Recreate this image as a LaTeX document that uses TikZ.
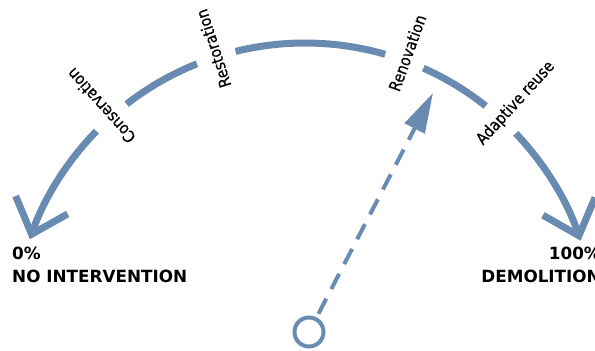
\documentclass[tikz,border=0pt]{standalone}
\usepackage{fontspec}
\setmainfont{DejaVu Sans}
\newfontfamily\stagefont[FakeStretch=0.87, FakeBold=0.6]{DejaVu Sans}
\usetikzlibrary{arrows.meta}
\definecolor{gaugeblue}{RGB}{105,139,177}

\begin{document}
\begin{tikzpicture}[x=1pt, y=1pt,
  arcline/.style={gaugeblue, line width=7pt},
  barb/.style={-{Straight Barb[sharp, length=31pt, width=55pt]}},
  stage/.style={anchor=west, inner sep=0pt, font=\stagefont\fontsize{16.3}{18}\selectfont},
  endlabel/.style={inner sep=0pt, font=\fontsize{16.8}{23}\selectfont\bfseries}]
  \useasboundingbox (-305,-17) rectangle (290,334);
  % the scale, broken where the stages are written
  \draw[arcline, barb] (135.8:291) arc[start angle=135.8, end angle=161, radius=291pt];
  \foreach \from/\to in {111.8/127.8, 74/103.8, 51.6/66}{
    \draw[arcline] (\from:291) arc[start angle=\from, end angle=\to, radius=291pt];
  }
  \draw[arcline, barb] (43.6:291) arc[start angle=43.6, end angle=18.7, radius=291pt];
  % stages along the scale
  \foreach \ang/\name/\key in {131.8/Conservation/cons, 107.8/Restoration/rest, 70/Renovation/reno, 47.6/Adaptive reuse/reuse}{
    \node[stage, rotate=\ang] (\key) at (\ang:259) {\name};
  }
  % both ends of the scale
  \node[endlabel, anchor=north west, align=left] (none) at (-293,87) {0\%\\NO INTERVENTION};
  \node[endlabel, anchor=north east, align=right] (full) at (296,87) {100\%\\DEMOLITION};
  % the needle
  \node[draw=gaugeblue, line width=4pt, circle, minimum size=29pt, inner sep=0pt] (pivot) at (4,2) {};
  \coordinate (tip) at (128,241);
  \draw[gaugeblue, line width=4pt, dash pattern=on 17pt off 11pt, shorten <=4pt,
    -{Triangle[length=40pt, width=22pt]}] (pivot) -- (tip);
\end{tikzpicture}
\end{document}
